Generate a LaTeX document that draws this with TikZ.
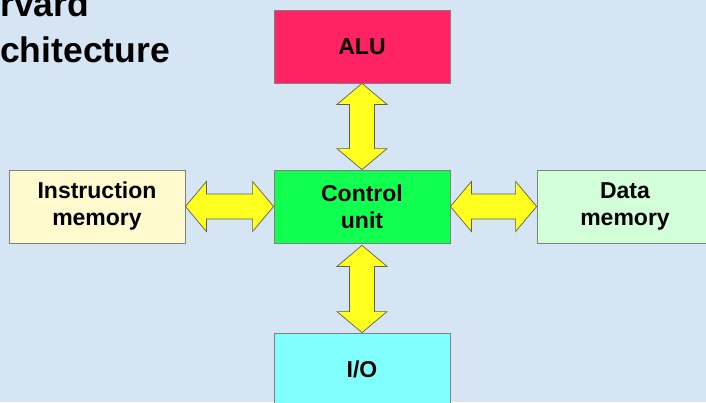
\documentclass[tikz,border=0pt]{standalone}
\usepackage{fontspec}
\setmainfont{Liberation Sans}
\usetikzlibrary{calc}

\definecolor{paper}{RGB}{214,229,243}
\definecolor{boxline}{RGB}{128,128,128}
\definecolor{busline}{RGB}{96,96,80}
\definecolor{busyellow}{RGB}{255,255,32}
\definecolor{alured}{RGB}{255,35,100}
\definecolor{cugreen}{RGB}{16,255,80}
\definecolor{iocyan}{RGB}{128,255,255}
\definecolor{imemyellow}{RGB}{255,250,205}
\definecolor{dmemgreen}{RGB}{210,255,215}

% vertical double-headed bus between two anchors (top tip, bottom tip)
\newcommand\vbus[2]{%
  \path[bus] let \p1=(#1), \p2=(#2) in
    (\x1,\y1) -- (\x1+25pt,\y1-21pt) -- (\x1+12.5pt,\y1-21pt)
    -- (\x1+12.5pt,\y2+21pt) -- (\x1+25pt,\y2+21pt) -- (\x1,\y2)
    -- (\x1-25pt,\y2+21pt) -- (\x1-12.5pt,\y2+21pt)
    -- (\x1-12.5pt,\y1-21pt) -- (\x1-25pt,\y1-21pt) -- cycle;}
% horizontal double-headed bus between two anchors (left tip, right tip)
\newcommand\hbus[2]{%
  \path[bus] let \p1=(#1), \p2=(#2) in
    (\x1,\y1) -- (\x1+21pt,\y1+25pt) -- (\x1+21pt,\y1+12.5pt)
    -- (\x2-21pt,\y1+12.5pt) -- (\x2-21pt,\y1+25pt) -- (\x2,\y1)
    -- (\x2-21pt,\y1-25pt) -- (\x2-21pt,\y1-12.5pt)
    -- (\x1+21pt,\y1-12.5pt) -- (\x1+21pt,\y1-25pt) -- cycle;}

\begin{document}
\begin{tikzpicture}[x=1pt,y=-1pt,
  unitbox/.style={draw=boxline, line width=0.8pt, minimum width=176pt,
    minimum height=73pt, inner sep=0pt, align=center,
    font=\fontsize{23}{27}\selectfont\bfseries},
  bus/.style={fill=busyellow, draw=busline, line width=0.7pt, line join=miter},
  title/.style={anchor=base west, inner sep=0pt,
    font=\fontsize{35.5}{40}\selectfont\bfseries}]

  \useasboundingbox (0,0) rectangle (706,402);
  \clip (0,0) rectangle (706,402);
  \fill[paper] (0,0) rectangle (706,402);

  % title
  \node[title] (t1) at (0,16) {rvard};
  \node[title] (t2) at (0,62) {chitecture};

  % units
  \node[unitbox, fill=alured]     (alu)  at (362,46.5)  {ALU};
  \node[unitbox, fill=cugreen]    (cu)   at (362,206.5) {Control\\unit};
  \node[unitbox, fill=iocyan]     (io)   at (362,369.5) {I/O};
  \node[unitbox, fill=imemyellow] (imem) at (97,206.5)  {Instruction\\memory};
  \node[unitbox, fill=dmemgreen]  (dmem) at (625,206.5) {Data\\memory};

  % buses
  \vbus{alu.south}{cu.north}
  \vbus{$(cu.south)+(0,2)$}{io.north}
  \hbus{imem.east}{cu.west}
  \hbus{cu.east}{dmem.west}
\end{tikzpicture}
\end{document}
